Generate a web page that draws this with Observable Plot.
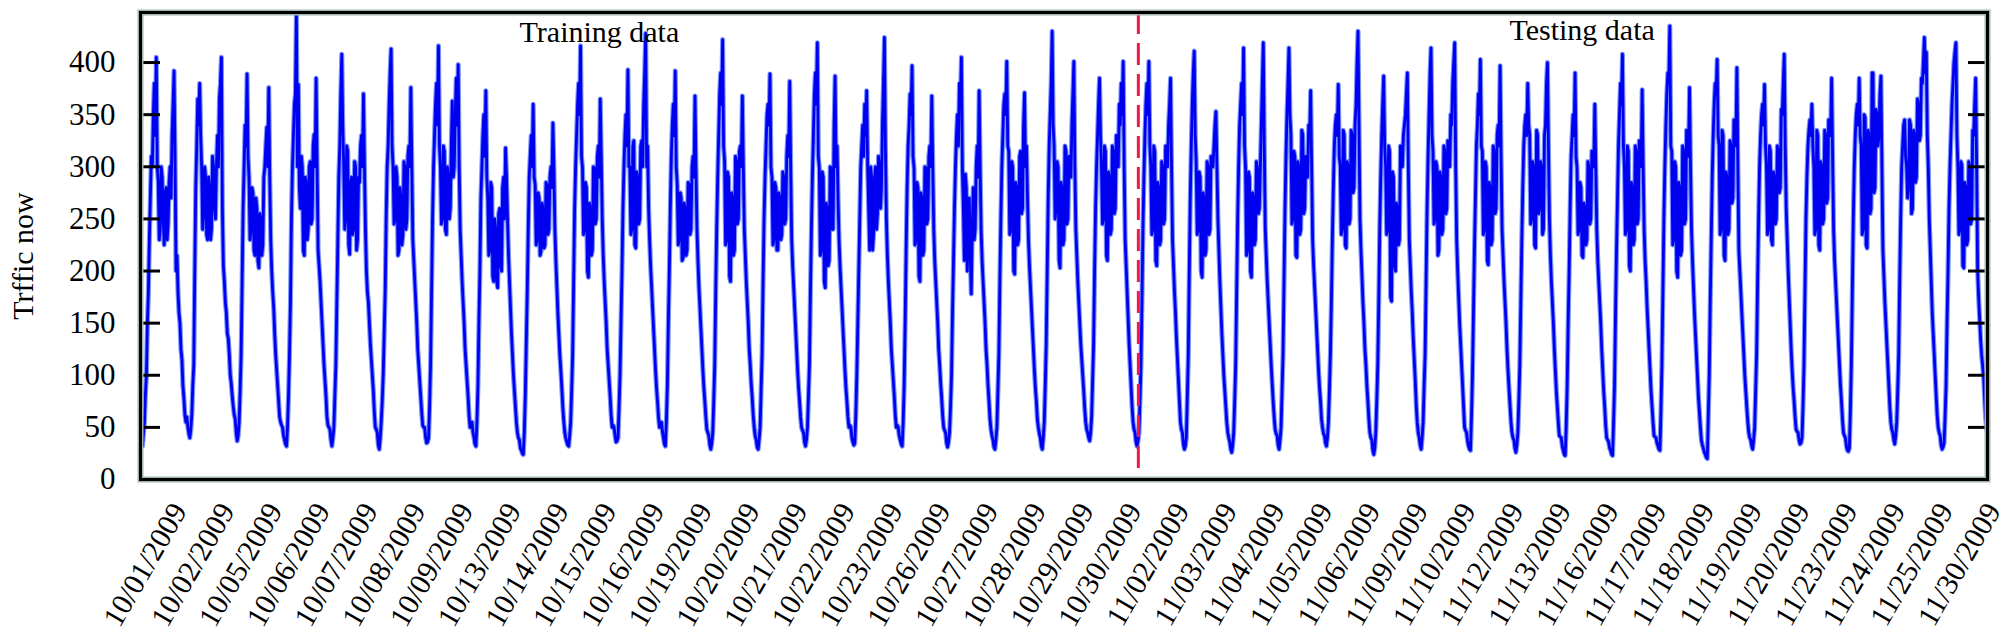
<!DOCTYPE html>
<html>
<head>
<meta charset="utf-8">
<script src="https://cdn.jsdelivr.net/npm/d3@7"></script>
<script src="https://cdn.jsdelivr.net/npm/@observablehq/plot@0.6"></script>
<style>
  html, body { margin: 0; padding: 0; background: #fff; }
  #chart svg { display: block; font-family: 'Liberation Serif', 'Times New Roman', serif; }
  #chart svg text { font-family: 'Liberation Serif', 'Times New Roman', serif; }
</style>
</head>
<body>
<div id="chart"></div>
<script>
// Tick labels (one per day segment)
const dayLabels = [
  "10/01/2009","10/02/2009","10/05/2009","10/06/2009","10/07/2009","10/08/2009","10/09/2009",
  "10/13/2009","10/14/2009","10/15/2009","10/16/2009","10/19/2009","10/20/2009","10/21/2009",
  "10/22/2009","10/23/2009","10/26/2009","10/27/2009","10/28/2009","10/29/2009","10/30/2009",
  "11/02/2009","11/03/2009","11/04/2009","11/05/2009","11/06/2009","11/09/2009","11/10/2009",
  "11/12/2009","11/13/2009","11/16/2009","11/17/2009","11/18/2009","11/19/2009","11/20/2009",
  "11/23/2009","11/24/2009","11/25/2009","11/30/2009"
];
const yTicks = [0, 50, 100, 150, 200, 250, 300, 350, 400];

// Traffic flow, 48 readings per day
const d1001 = [48,36,32,44,55,82,100,150,180,230,270,310,300,350,380,330,405,300,285,230,240,300,290,250,225,275,280,230,245,285,300,270,330,360,392,310,200,215,180,160,150,125,115,90,78,62,55,60];
const d1002 = [50,44,40,48,62,90,110,200,280,320,365,340,380,330,300,240,255,300,290,235,230,290,280,230,240,310,300,260,250,300,330,300,366,380,405,260,205,190,170,160,140,135,120,100,92,80,70,62];
const d1005 = [58,45,37,42,55,85,120,190,260,300,340,320,389,310,290,230,240,280,275,220,215,270,260,210,203,255,250,215,225,290,300,320,338,300,376,290,230,200,180,165,140,120,105,90,75,60,55,52];
const d1006 = [50,42,38,34,32,50,80,120,170,250,300,330,360,370,448,300,379,280,260,310,300,220,215,290,285,230,240,300,305,245,250,320,331,300,385,300,220,205,190,170,150,130,110,95,80,60,52,50];
const d1007 = [48,38,32,40,50,80,110,170,230,290,320,370,408,340,300,240,250,320,315,225,216,285,290,235,240,305,300,220,230,290,285,320,330,300,370,300,240,200,180,170,150,130,115,100,85,65,50,48];
const d1008 = [45,33,29,40,55,75,100,140,180,250,300,320,360,390,413,320,300,245,250,300,290,215,220,280,270,225,235,305,300,240,250,310,320,300,376,300,230,210,190,170,150,125,110,95,80,65,52,50];
const d1009 = [50,40,35,36,40,70,110,180,250,300,330,360,380,340,416,320,300,245,250,320,315,240,235,300,290,250,260,320,363,290,300,350,385,340,398,300,240,215,190,170,150,125,110,95,80,62,50,52];
const d1013 = [55,45,40,34,32,55,90,150,200,270,300,330,350,310,373,290,270,215,220,285,280,195,190,250,240,190,184,255,260,205,200,280,290,250,318,290,250,215,190,165,140,120,100,85,70,55,45,40];
const d1014 = [38,30,28,25,24,45,80,130,180,240,290,310,330,300,360,290,283,225,230,275,270,215,219,265,260,222,225,285,283,235,240,290,300,280,342,300,240,210,185,160,140,120,105,88,70,56,45,40];
const d1015 = [36,33,32,42,55,85,120,190,260,300,330,360,380,350,416,310,299,235,240,285,280,200,194,265,260,215,220,300,299,245,250,310,320,290,365,310,250,215,190,170,150,125,110,95,80,62,50,52];
const d1016 = [50,42,36,37,40,68,100,150,200,260,300,330,350,320,393,300,300,235,240,320,325,225,222,295,290,245,250,320,325,300,360,390,428,300,320,260,230,205,185,165,145,125,105,88,75,60,50,53];
const d1019 = [55,46,40,34,32,55,90,150,200,260,310,340,360,330,392,300,283,225,230,275,270,210,213,265,260,215,220,285,283,235,240,300,310,290,368,300,240,210,185,165,145,125,105,88,75,60,48,45];
const d1020 = [42,33,29,35,45,75,110,180,240,290,330,370,390,360,422,320,305,225,230,295,290,195,190,275,270,215,220,310,305,245,250,315,320,300,368,300,240,215,190,170,150,125,110,92,78,62,50,42];
const d1021 = [38,31,29,38,50,85,120,190,250,290,320,350,360,340,389,300,290,225,230,285,280,220,220,275,270,230,235,295,290,245,250,310,330,310,382,300,230,205,185,165,145,125,105,88,75,60,50,47];
const d1022 = [45,36,32,38,50,80,110,180,240,290,330,370,390,360,419,310,299,215,220,295,290,190,184,265,260,205,210,300,299,240,240,340,387,300,320,270,230,205,185,165,145,125,105,88,75,60,50,52];
const d1023 = [50,40,36,33,35,62,100,150,200,250,300,320,340,310,360,330,373,300,260,220,300,290,220,235,290,300,240,255,310,300,260,280,340,380,424,320,250,215,190,170,150,125,110,95,80,62,50,52];
const d1026 = [50,42,38,34,32,55,90,150,220,280,320,340,370,350,397,310,299,225,230,285,280,195,190,275,270,215,220,300,299,245,250,310,320,300,368,300,240,210,190,170,150,125,110,92,78,62,50,47];
const d1027 = [45,35,31,36,45,70,100,160,210,260,300,330,350,320,380,360,405,300,260,210,293,280,200,250,270,215,178,240,280,230,240,300,320,290,373,300,240,210,190,170,150,125,110,90,75,58,48,42];
const d1028 = [38,31,29,38,50,85,120,190,250,300,330,360,370,350,401,320,315,235,240,305,300,200,197,285,280,225,230,310,315,255,260,340,371,300,320,270,230,205,185,165,145,125,105,88,75,58,50,44];
const d1029 = [40,32,29,40,55,90,130,200,270,320,350,380,430,340,320,250,260,305,300,210,203,285,280,225,230,320,315,245,250,310,300,290,340,370,401,300,240,215,190,170,150,130,115,100,85,68,55,48];
const d1030 = [45,40,37,45,60,95,130,200,260,300,330,360,385,330,300,245,250,320,315,215,210,295,290,235,240,320,315,255,260,330,320,300,360,340,380,350,401,300,230,205,180,155,130,110,90,70,55,48];
const d1102 = [45,36,32,37,45,75,110,170,240,290,330,360,380,350,401,320,300,235,240,320,315,210,205,285,280,225,230,305,300,245,250,320,320,300,340,360,385,300,230,205,180,160,135,115,95,75,55,48];
const d1103 = [45,34,29,32,40,80,120,200,270,320,360,390,411,330,305,235,240,295,290,200,194,275,270,215,220,305,300,235,240,310,305,300,320,340,353,300,250,220,190,165,140,120,100,85,70,55,45,40];
const d1104 = [36,29,26,33,45,75,110,180,250,300,340,360,380,350,414,320,299,215,220,295,290,200,194,275,270,225,230,305,299,255,260,300,340,380,419,320,240,215,190,170,150,130,110,92,75,60,48,44];
const d1105 = [42,33,29,38,50,85,120,190,260,310,350,380,414,350,331,245,250,315,310,215,213,305,300,235,240,335,331,255,260,310,300,290,340,330,373,300,230,205,185,165,145,125,105,88,75,58,50,44];
const d1106 = [42,35,32,40,55,85,120,170,230,280,320,340,350,330,379,310,300,235,240,335,331,225,222,305,300,245,250,335,331,275,280,340,360,400,430,340,250,220,195,170,150,125,110,90,75,58,45,40];
const d1109 = [38,28,24,30,45,75,110,170,240,290,330,360,387,320,300,235,240,320,315,175,171,295,290,205,200,265,260,225,230,320,315,300,330,340,350,370,390,300,230,205,180,160,135,115,95,72,55,45];
const d1110 = [40,33,29,40,55,90,120,190,260,310,350,390,414,330,315,245,250,305,300,215,220,295,290,235,240,320,315,255,260,325,320,300,350,340,380,400,419,300,230,200,175,150,130,110,90,70,50,47];
const d1112 = [45,37,32,29,28,60,100,160,220,270,320,340,370,350,403,320,315,235,240,305,300,210,206,285,280,225,230,320,315,255,260,330,340,320,397,310,240,215,190,170,150,125,105,88,72,56,45,40];
const d1113 = [38,30,26,33,45,75,110,170,230,280,320,340,350,330,380,340,331,245,250,305,300,225,222,335,331,255,260,305,300,235,240,330,340,380,400,320,250,215,190,170,150,125,105,85,70,55,42,41];
const d1116 = [40,32,28,24,23,50,90,150,200,260,310,330,350,330,390,310,299,235,240,285,280,215,213,265,260,225,230,305,299,245,250,315,310,300,360,300,240,210,190,170,150,125,105,85,70,52,40,38];
const d1117 = [36,30,28,24,23,55,90,160,220,270,320,350,380,360,408,320,300,235,240,320,315,205,200,285,280,225,230,320,315,245,250,325,320,300,374,300,240,210,190,165,145,125,105,85,70,55,42,41];
const d1118 = [40,35,32,29,28,65,110,180,250,300,340,370,390,380,435,320,315,225,230,305,300,200,194,285,280,215,220,320,315,245,250,335,330,310,376,300,240,210,185,160,140,120,100,80,65,50,38,33];
const d1119 = [30,26,24,21,20,60,100,170,230,290,330,360,380,370,403,330,320,235,240,335,330,215,210,295,290,235,240,325,320,265,270,345,340,320,395,300,220,200,180,160,140,120,100,85,70,56,45,40];
const d1120 = [38,32,29,38,50,85,120,190,250,300,330,350,360,340,379,320,300,235,240,320,315,230,225,295,290,245,250,320,315,275,280,355,350,380,408,320,260,230,200,175,150,125,105,88,75,60,48,46];
const d1123 = [45,38,34,35,40,70,110,180,250,290,320,335,345,330,360,320,300,235,240,335,330,225,220,305,300,245,250,335,330,265,270,345,340,330,385,310,240,210,190,170,150,130,110,90,75,58,45,42];
const d1124 = [40,32,28,27,30,65,110,180,250,300,330,350,360,340,385,330,320,235,240,350,347,225,222,335,330,255,260,390,390,275,280,355,350,320,330,370,387,300,220,195,170,150,130,110,90,70,55,48];
const d1125 = [45,38,34,42,55,85,120,190,250,300,320,340,345,310,300,270,280,345,340,255,260,335,330,285,290,365,360,325,330,385,380,400,424,390,410,330,300,250,220,190,160,140,120,100,80,62,50,45];
const d1130 = [42,33,29,31,35,60,90,150,200,260,300,330,360,380,400,410,419,330,300,235,240,305,302,205,203,285,280,225,230,305,300,245,250,335,330,360,385,300,200,175,155,135,120,110,100,80,60,50,44];

const days = [d1001,d1002,d1005,d1006,d1007,d1008,d1009,d1013,d1014,d1015,d1016,d1019,d1020,d1021,
  d1022,d1023,d1026,d1027,d1028,d1029,d1030,d1102,d1103,d1104,d1105,d1106,d1109,d1110,
  d1112,d1113,d1116,d1117,d1118,d1119,d1120,d1123,d1124,d1125,d1130];

const readingsPerDay = 48;
const series = days.flatMap((vals, k) => vals.map((v, j) => ({t: k + j / readingsPerDay, v})));

// Training / testing split (day units)
const splitAt = 21.07;

// label anchor positions along the axis (day units)
const labelFirst = 1.0, labelLast = 39.3;
const labelData = dayLabels.map((s, i) => ({
  pos: labelFirst + i * (labelLast - labelFirst) / (dayLabels.length - 1),
  s
}));

const font = "'Liberation Serif', 'Times New Roman', serif";

const chart = Plot.plot({
  width: 2010,
  height: 635,
  marginLeft: 140,
  marginRight: 23,
  marginTop: 12,
  marginBottom: 156,
  style: {background: "#fff", fontFamily: font, fontSize: "30px", color: "#000"},
  x: {domain: [0, 39], axis: null},
  y: {domain: [0, 448]},
  marks: [
    Plot.line(series, {x: "t", y: "v", stroke: "#7a94ff", strokeWidth: 5, strokeLinejoin: "round", clip: true}),
    Plot.line(series, {x: "t", y: "v", stroke: "#0000f0", strokeWidth: 2.8, strokeLinejoin: "round", clip: true}),
    Plot.ruleX([splitAt], {stroke: "#f2184a", strokeWidth: 3, strokeDasharray: "22,9"}),
    Plot.axisY(yTicks, {anchor: "left", tickSize: -20, tickPadding: 45, strokeWidth: 3, fontSize: 31, fontFamily: font, label: null}),
    Plot.axisY(yTicks, {anchor: "right", tickSize: -20, strokeWidth: 3, tickFormat: () => "", label: null}),
    Plot.frame({stroke: "#9fb4b1", strokeWidth: 6}),
    Plot.frame({stroke: "#000", strokeWidth: 3}),
    Plot.text(labelData, {x: "pos", text: "s", frameAnchor: "bottom", rotate: -60, textAnchor: "end", dy: 31, fontSize: 30, fontFamily: font}),
    Plot.text(["Trffic now"], {frameAnchor: "left", textAnchor: "middle", dx: -117, dy: 10, rotate: -90, fontSize: 30, fontFamily: font}),
    Plot.text(["Training data"], {x: () => 9.69, frameAnchor: "top", lineAnchor: "top", dy: 8, fontSize: 30, fontFamily: font}),
    Plot.text(["Testing data"], {x: () => 30.44, frameAnchor: "top", lineAnchor: "top", dy: 6, fontSize: 30, fontFamily: font})
  ]
});
document.getElementById("chart").appendChild(chart);
</script>
</body>
</html>
